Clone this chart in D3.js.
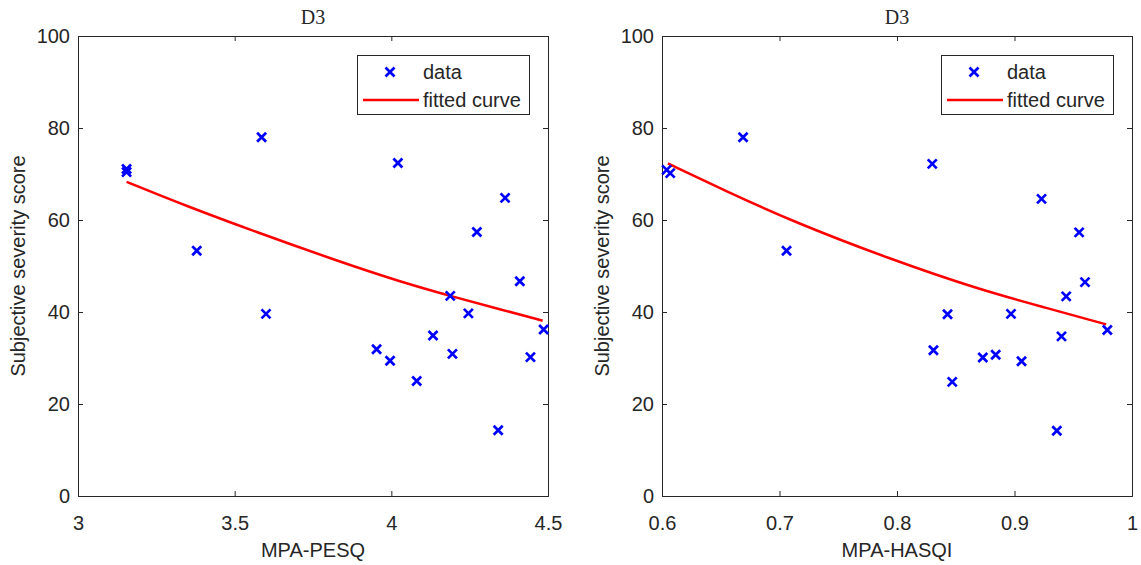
<!DOCTYPE html>
<html>
<head>
<meta charset="utf-8">
<script src="https://cdn.jsdelivr.net/npm/d3@7"></script>
<style>
  body { margin: 0; background: #fff; }
  text { font-family: "Liberation Sans", Arial, Helvetica, sans-serif; fill: #262626; }
  .title { font-family: "Liberation Serif", "Times New Roman", serif; }
</style>
</head>
<body>
<svg width="1141" height="565"></svg>
<script>
// data per plot
var pesqX = [3.155, 3.155, 3.586, 3.379, 3.600, 4.188, 4.410, 4.246, 4.486, 3.953,
             3.996, 4.133, 4.195, 4.444, 4.081, 4.341, 4.021, 4.273, 4.363];
var pesqY = [71.1, 70.4, 78.0, 53.3, 39.6, 43.5, 46.7, 39.7, 36.2, 31.9,
             29.4, 34.9, 30.9, 30.2, 25.0, 14.3, 72.4, 57.4, 64.8];
var pesqFitX = [3.155, 3.347, 3.560, 3.836, 4.028, 4.187, 4.347, 4.483];
var pesqFitY = [68.3, 63.0, 57.6, 50.9, 46.6, 43.5, 40.6, 38.1];

var hasqiX = [0.604, 0.607, 0.669, 0.706, 0.830, 0.923, 0.955, 0.960, 0.944, 0.843,
              0.897, 0.979, 0.940, 0.831, 0.873, 0.884, 0.906, 0.847, 0.936];
var hasqiY = [70.9, 70.2, 78.0, 53.3, 72.2, 64.6, 57.3, 46.5, 43.4, 39.5,
              39.6, 36.1, 34.7, 31.7, 30.1, 30.7, 29.3, 24.8, 14.2];
var hasqiFitX = [0.605, 0.655, 0.712, 0.794, 0.871, 0.927, 0.978];
var hasqiFitY = [72.3, 66.2, 59.6, 51.5, 44.8, 40.9, 37.3];

var pesqTicks = [3, 3.5, 4, 4.5];
var hasqiTicks = [0.6, 0.7, 0.8, 0.9, 1];
var yTicks = [0, 20, 40, 60, 80, 100];

var svg = d3.select("svg"),
    plotW = 470,
    plotH = 460,
    plotTop = 36;

var cross = "M-4.5,-4.5L4.5,4.5M-4.5,4.5L4.5,-4.5";

function drawPanel(left, xs, ys, fx, fy, xDomain, xTicks, xName) {
  var g = svg.append("g")
      .attr("transform", "translate(" + left + "," + plotTop + ")");

  var x = d3.scaleLinear().domain(xDomain).range([0, plotW]),
      y = d3.scaleLinear().domain([0, 100]).range([plotH, 0]);

  // assen met ticks naar binnen, ook boven en rechts (box on)
  var fmt = function(d) { return d3.format("")(d); };
  g.append("g")
      .attr("class", "axis")
      .attr("transform", "translate(0," + plotH + ")")
      .call(d3.axisBottom(x).tickValues(xTicks).tickFormat(fmt).tickSize(-5).tickPadding(20));
  g.append("g")
      .attr("class", "axis")
      .call(d3.axisTop(x).tickValues(xTicks).tickFormat("").tickSize(-5));
  g.append("g")
      .attr("class", "axis")
      .call(d3.axisLeft(y).tickValues(yTicks).tickSize(-5).tickPadding(8));
  g.append("g")
      .attr("class", "axis")
      .attr("transform", "translate(" + plotW + ",0)")
      .call(d3.axisRight(y).tickValues(yTicks).tickFormat("").tickSize(-5));

  g.selectAll(".axis path, .axis line").attr("stroke", "#262626");
  g.selectAll(".axis text")
      .style("font-size", "20px")
      .attr("fill", "#262626")
      .style("font-family", "'Liberation Sans', Arial, sans-serif");

  // fitted curve
  var line = d3.line()
      .x(function(d) { return x(d[0]); })
      .y(function(d) { return y(d[1]); })
      .curve(d3.curveBasis);
  g.append("path")
      .datum(d3.zip(fx, fy))
      .attr("d", line)
      .attr("fill", "none")
      .attr("stroke", "#ff0000")
      .attr("stroke-width", 2.5);

  // data als kruisjes
  g.selectAll(".pt")
    .data(d3.zip(xs, ys))
    .enter().append("path")
      .attr("class", "pt")
      .attr("transform", function(d) { return "translate(" + x(d[0]) + "," + y(d[1]) + ")"; })
      .attr("d", cross)
      .attr("stroke", "#0000ff")
      .attr("stroke-width", 2.7)
      .attr("fill", "none");

  // titel en labels
  g.append("text")
      .attr("class", "title")
      .attr("x", plotW / 2)
      .attr("y", -12)
      .attr("text-anchor", "middle")
      .style("font-size", "20px")
      .text("D3");

  g.append("text")
      .attr("x", plotW / 2)
      .attr("y", plotH + 61)
      .attr("text-anchor", "middle")
      .style("font-size", "20px")
      .text(xName);

  g.append("text")
      .attr("transform", "rotate(-90)")
      .attr("x", -plotH / 2)
      .attr("y", -53)
      .attr("text-anchor", "middle")
      .style("font-size", "20px")
      .text("Subjective severity score");

  // legenda
  var lg = g.append("g").attr("transform", "translate(279,19)");
  lg.append("rect")
      .attr("x", 0.5).attr("y", 0.5)
      .attr("width", 172).attr("height", 59)
      .attr("fill", "#fff")
      .attr("stroke", "#262626");
  lg.append("path")
      .attr("transform", "translate(33,17)")
      .attr("d", cross)
      .attr("stroke", "#0000ff")
      .attr("stroke-width", 2.7);
  lg.append("line")
      .attr("x1", 6).attr("x2", 62)
      .attr("y1", 45).attr("y2", 45)
      .attr("stroke", "#ff0000")
      .attr("stroke-width", 2.5);
  lg.append("text")
      .attr("x", 66).attr("y", 17).attr("dy", "0.35em")
      .style("font-size", "20px")
      .text("data");
  lg.append("text")
      .attr("x", 66).attr("y", 45).attr("dy", "0.35em")
      .style("font-size", "20px")
      .text("fitted curve");
}

drawPanel(78, pesqX, pesqY, pesqFitX, pesqFitY, [3, 4.5], pesqTicks, "MPA-PESQ");
drawPanel(662, hasqiX, hasqiY, hasqiFitX, hasqiFitY, [0.6, 1], hasqiTicks, "MPA-HASQI");
</script>
</body>
</html>
